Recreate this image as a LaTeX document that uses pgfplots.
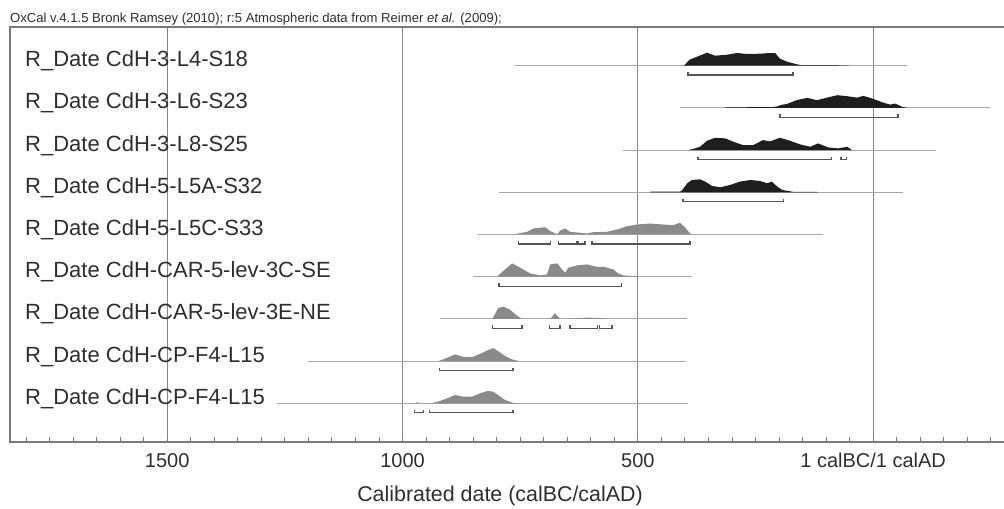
\documentclass[border=0pt]{standalone}
\usepackage{fontspec}
\setmainfont{Liberation Sans}
\usepackage{pgfplots}
\pgfplotsset{compat=1.18}

\definecolor{frame}{HTML}{7A7A7A}
\definecolor{gridc}{HTML}{858585}
\definecolor{rangeline}{HTML}{A8A8A8}
\definecolor{bracketc}{HTML}{555555}
\definecolor{postfill}{HTML}{1E1E1E}
\definecolor{likefill}{HTML}{8A8A8A}
\definecolor{txt}{HTML}{2E2E2E}

% 95.4% range bracket: from, to, level, level of the end hooks
\newcommand{\rng}[4]{\addplot[bracketc, line width=1.4pt] coordinates {(#1,#4) (#1,#3) (#2,#3) (#2,#4)};}
% thin line over the full calibrated span of a date
\newcommand{\calspan}[3]{\addplot[rangeline, line width=0.9pt] coordinates {(#1,#3) (#2,#3)};}
% name of a date, written inside the frame on its baseline
\newcommand{\lab}[2]{\node[anchor=base west, text=txt, font=\fontsize{22bp}{22bp}\selectfont, inner sep=0pt] at (axis cs:1802,#1) {#2};}

\begin{document}
\begin{tikzpicture}
\begin{axis}[
  at={(0bp,0bp)}, anchor=south west,
  scale only axis, width=994bp, height=415bp,
  xmin=-278, xmax=1834, x dir=reverse,
  ymin=0, ymax=415,
  axis line style={draw=none},
  ytick=\empty,
  xtick={1500,1000,500,0},
  xticklabels={1500,1000,500,1 calBC/1 calAD},
  minor xtick={-250,-200,...,1800},
  xtick pos=bottom, tick align=inside,
  major tick length=0pt, minor tick length=5bp,
  minor tick style={frame, line width=0.9pt},
  xmajorgrids, major grid style={gridc, line width=1.1pt},
  xticklabel style={anchor=base, yshift=-25bp, text=txt, font=\fontsize{20bp}{20bp}\selectfont},
  clip=false,
]
% frame: left, top and bottom sides
\draw[frame, line width=1.6pt] (rel axis cs:1,1) -- (rel axis cs:0,1) -- (rel axis cs:0,0) -- (rel axis cs:1,0);

% ---- R_Date CdH-3-L4-S18 (baseline 376.3)
\calspan{761}{-72}{376.3}
\addplot[fill=postfill, draw=none] table[y expr=\thisrow{h}+376.3] {
x h
402 0
390 6
374 9
353 13
336 10
310 11
289 12.7
268 11.7
240 12
219 12.7
208 12.5
198 7
183 4
161 1.3
151 0.5
100 0.5
55 0.4
50 0
} --cycle;
\rng{393}{170}{366.8}{369.8}

% ---- R_Date CdH-3-L6-S23 (baseline 334.1)
\calspan{410}{-249}{334.1}
\addplot[fill=postfill, draw=none] table[y expr=\thisrow{h}+334.1] {
x h
315 0
314 0.6
215 0.7
204 1.5
195 3
183 4
161 8
140 10
119 7.7
98 10.3
76 12.7
55 11.7
34 10.3
21 12
6 10
-8 7.7
-21 5.3
-36 3.3
-47 4.3
-62 1
-72 0
} --cycle;
\rng{198}{-53}{324.6}{327.6}

% ---- R_Date CdH-3-L8-S25 (baseline 291.9)
\calspan{531}{-134}{291.9}
\addplot[fill=postfill, draw=none] table[y expr=\thisrow{h}+291.9] {
x h
393 0
380 1.5
368 3.3
353 9.3
336 12.3
314 11.7
297 8.3
276 5
255 5
234 10
219 8.7
198 12.3
181 10
155 5.7
134 3.3
117 6.7
96 2.7
74 1.7
55 3.3
45 0
} --cycle;
\rng{372}{89}{282.4}{285.4}
\rng{68}{57}{282.4}{285.4}

% ---- R_Date CdH-5-L5A-S32 (baseline 249.7)
\calspan{795}{-64}{249.7}
\addplot[fill=postfill, draw=none] table[y expr=\thisrow{h}+249.7] {
x h
474 0
473 0.6
410 0.7
406 2
395 9
385 12.3
368 13
357 10.7
342 6.3
325 5
304 7.3
283 10.7
261 12.3
240 11.3
225 9
215 10.7
204 5.7
193 2.3
170 0.5
119 0.4
118 0
} --cycle;
\rng{404}{191}{240.2}{243.2}

% ---- R_Date CdH-5-L5C-S33 (baseline 207.5)
\calspan{839}{106}{207.5}
\addplot[fill=likefill, draw=none] table[y expr=\thisrow{h}+207.5] {
x h
765 0
735 2.7
722 6
697 7.3
686 3.3
671 0.4
665 4
654 6
644 2.7
623 1.7
608 1
595 2.3
565 2.7
544 5
523 8.3
501 10
474 11
446 10
425 9.3
410 11.7
399 6.7
389 1
382 0
} --cycle;
\rng{754}{686}{198}{201}
\rng{669}{629}{198}{201}
\rng{627}{612}{198}{201}
\rng{597}{389}{198}{201}

% ---- R_Date CdH-CAR-5-lev-3C-SE (baseline 165.3)
\calspan{850}{385}{165.3}
\addplot[fill=likefill, draw=none] table[y expr=\thisrow{h}+165.3] {
x h
799 0
786 5.7
767 13.3
750 9
729 3.3
707 1.3
693 2.3
686 12.3
671 13.3
661 7.3
654 4
648 9
629 11.3
608 12.3
586 9.7
574 10
552 7.3
542 3.3
531 1.3
501 0.4
500 0
} --cycle;
\rng{795}{535}{155.8}{158.8}

% ---- R_Date CdH-CAR-5-lev-3E-NE (baseline 123.1)
\calspan{920}{395}{123.1}
\addplot[fill=likefill, draw=none] table[y expr=\thisrow{h}+123.1] {
x h
809 0
797 10.7
786 12.3
771 9
756 3
746 0
} --cycle;
\addplot[fill=likefill, draw=none] table[y expr=\thisrow{h}+123.1] {
x h
686 0
676 5.7
665 0
} --cycle;
\addplot[fill=likefill, draw=none] table[y expr=\thisrow{h}+123.1] {
x h
644 0
620 0.8
606 1.3
580 0.8
559 0
} --cycle;
\rng{809}{746}{113.6}{116.6}
\rng{688}{665}{113.6}{116.6}
\rng{644}{586}{113.6}{116.6}
\rng{582}{555}{113.6}{116.6}

% ---- R_Date CdH-CP-F4-L15 (baseline 80.9)
\calspan{1200}{397}{80.9}
\addplot[fill=likefill, draw=none] table[y expr=\thisrow{h}+80.9] {
x h
924 0
905 3.3
888 6.7
871 4.3
852 4
835 7.3
818 11
807 13
797 10
782 5
767 1.7
756 0.4
750 0
} --cycle;
\rng{922}{765}{71.4}{74.4}

% ---- R_Date CdH-CP-F4-L15 (baseline 38.7)
\calspan{1266}{393}{38.7}
\addplot[fill=likefill, draw=none] table[y expr=\thisrow{h}+38.7] {
x h
975 0
969 1
962 0
} --cycle;
\addplot[fill=likefill, draw=none] table[y expr=\thisrow{h}+38.7] {
x h
941 0
924 1.7
905 5
888 8.3
871 6.7
852 6.7
835 10
820 12.3
807 11.7
797 8.3
782 3.3
767 0.7
755 0
} --cycle;
\rng{975}{956}{29.2}{32.2}
\rng{943}{765}{29.2}{32.2}

\lab{375.3}{R\_Date CdH-3-L4-S18}
\lab{333.1}{R\_Date CdH-3-L6-S23}
\lab{290.9}{R\_Date CdH-3-L8-S25}
\lab{248.7}{R\_Date CdH-5-L5A-S32}
\lab{206.5}{R\_Date CdH-5-L5C-S33}
\lab{164.3}{R\_Date CdH-CAR-5-lev-3C-SE}
\lab{122.1}{R\_Date CdH-CAR-5-lev-3E-NE}
\lab{79.9}{R\_Date CdH-CP-F4-L15}
\lab{37.7}{R\_Date CdH-CP-F4-L15}

\node[anchor=base, text=txt, font=\fontsize{21.4bp}{21.4bp}\selectfont] at (rel axis cs:0.5,0) [yshift=-59.5bp, xshift=-7bp] {Calibrated date (calBC/calAD)};
\end{axis}
\node[anchor=base west, text=txt, font=\fontsize{13.1bp}{14bp}\selectfont, inner sep=0pt] at (0bp,419bp) {OxCal v.4.1.5 Bronk Ramsey (2010); r:5 Atmospheric data from Reimer \textit{et al.} (2009);};
\pgfresetboundingbox
\path (-10bp,-67bp) rectangle (994bp,442bp);
\end{tikzpicture}
\end{document}
